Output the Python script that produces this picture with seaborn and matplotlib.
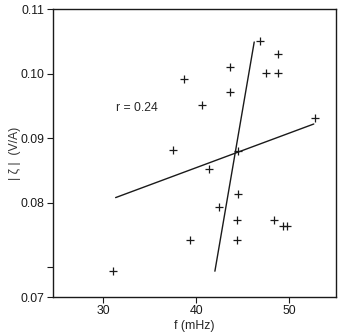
import numpy as np
import pandas as pd
import seaborn as sns
import matplotlib
matplotlib.use("Agg")
import matplotlib.pyplot as plt

# dados
f_mhz = [31.1, 39.3, 37.5, 38.7, 40.6, 41.4, 42.4, 43.6, 43.6, 44.5, 44.45,
         44.4, 44.35, 46.85, 48.8, 47.55, 48.75, 48.35, 49.3, 49.8, 52.75]
zeta = [0.0694, 0.0743, 0.0881, 0.0991, 0.0951, 0.0852, 0.0794, 0.1011, 0.0972,
        0.0880, 0.0813, 0.0773, 0.0743, 0.1050, 0.1031, 0.1001, 0.1001, 0.0773,
        0.0764, 0.0764, 0.0932]

# retas de regressao (extremos)
reta1_x = [31.33, 52.65]
reta1_y = [0.0808, 0.0922]
reta2_x = [42.01, 46.24]
reta2_y = [0.0694, 0.1049]

xticks = [30, 40, 50]
yticks = [0.0654, 0.07, 0.08, 0.09, 0.10, 0.11]
ytick_labels = ["0.07", "", "0.08", "0.09", "0.10", "0.11"]

df = pd.DataFrame({"f": f_mhz, "zeta": zeta})

sns.set_style("ticks")
plt.rcParams["font.family"] = ["Liberation Sans", "DejaVu Sans"]

fig = plt.figure(figsize=(3.38, 3.36), dpi=100)
ax = fig.add_axes([0.157, 0.116, 0.836, 0.857])

sns.scatterplot(data=df, x="f", y="zeta", marker="+", color="#1a1a1a",
                s=32, linewidth=0.9, ax=ax, legend=False)
sns.lineplot(x=reta1_x, y=reta1_y, color="#1a1a1a", linewidth=1.0, ax=ax)
sns.lineplot(x=reta2_x, y=reta2_y, color="#1a1a1a", linewidth=1.0, ax=ax)

ax.text(31.4, 0.0946, "r = 0.24", fontsize=8.8, va="center", ha="left")

ax.set_xlim(24.6, 55.0)
ax.set_ylim(0.0654, 0.1100)
ax.set_xticks(xticks)
ax.set_yticks(yticks)
ax.set_yticklabels(ytick_labels)
ax.set_xlabel("f (mHz)", fontsize=8.8, labelpad=2)
ax.set_ylabel("| ζ |  (V/A)", fontsize=8.8, labelpad=0, color="#333333")
ax.tick_params(labelsize=8.8, length=4, width=0.8, colors="#1a1a1a", pad=2)
for s in ax.spines.values():
    s.set_visible(True)
    s.set_linewidth(1.0)
    s.set_color("#1a1a1a")

fig.savefig("out.png", dpi=100)
